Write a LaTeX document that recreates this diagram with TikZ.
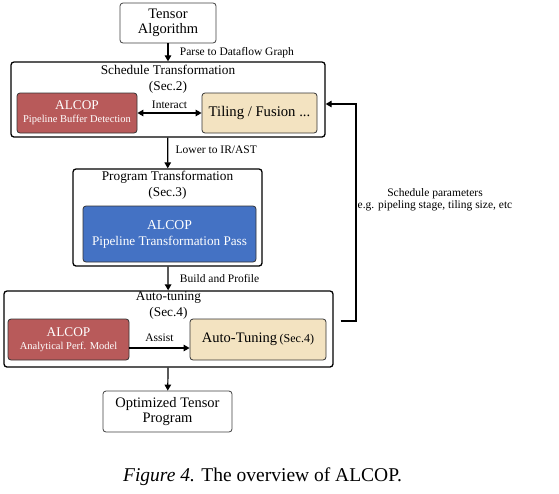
\documentclass[tikz,border=0pt]{standalone}
\usepackage{fontspec}
\setmainfont{Liberation Serif}
\usetikzlibrary{arrows.meta}

\definecolor{alcopred}{HTML}{B85A5A}
\definecolor{tunebeige}{HTML}{F3E3C1}
\definecolor{passblue}{HTML}{4472C4}

\newcommand{\fsz}[1]{\fontsize{#1}{1.22\dimexpr#1pt\relax}\selectfont}

\tikzset{
  stage/.style={draw=black, line width=1.3pt, rounded corners=3pt, inner sep=0pt},
  io/.style={draw=black!75, line width=0.8pt, rounded corners=3pt, fill=white, align=center, font=\fsz{14.5}},
  inner/.style={draw=black!80, line width=0.8pt, rounded corners=3pt, align=center},
  title/.style={align=center, font=\fsz{13.3}},
  lbl/.style={font=\fsz{11.5}},
  arr/.style={line width=1.2pt, -{Triangle[length=6pt,width=6.5pt]}},
  darr/.style={line width=1.2pt, {Triangle[length=6pt,width=6.5pt]}-{Triangle[length=6pt,width=6.5pt]}}
}

\begin{document}
\begin{tikzpicture}[x=1pt, y=-1pt]
        \useasboundingbox (0,0) rectangle (559,493);

        % Entrada y salida
        \node[io, minimum width=96pt, minimum height=40pt] (alg) at (168,23) {Tensor\\[-3pt]Algorithm};
        \node[io, minimum width=129pt, minimum height=41pt] (opt) at (167.5,411.5) {Optimized Tensor\\[-3pt]Program};

        % Etapas
        \node[stage, minimum width=314pt, minimum height=75pt] (sched) at (168,99.5) {};
        \node[title] (schedT) at (168,79.5) {Schedule Transformation\\(Sec.2)};
        \node[stage, minimum width=189pt, minimum height=97pt] (prog) at (167.5,217.5) {};
        \node[title] (progT) at (167.5,185) {Program Transformation\\(Sec.3)};
        \node[stage, minimum width=329pt, minimum height=76pt] (auto) at (168.5,329) {};
        \node[title] (autoT) at (168.5,305.5) {Auto-tuning\\(Sec.4)};

        % Cajas internas
        \node[inner, fill=alcopred, text=white, minimum width=120pt, minimum height=40pt, font=\fsz{10.5}] (pbd) at (77,113)
          {{\fsz{13.3}ALCOP}\\[0.5pt]Pipeline Buffer Detection};
        \node[inner, fill=tunebeige, minimum width=115pt, minimum height=40pt, font=\fsz{14.7}] (tile) at (259.5,113)
          {Tiling / Fusion ...};
        \node[inner, fill=passblue, text=white, minimum width=173pt, minimum height=56pt, font=\fsz{13.2}] (ptp) at (169.5,234)
          {{\fsz{13.7}ALCOP}\\Pipeline Transformation Pass};
        \node[inner, fill=alcopred, text=white, minimum width=121pt, minimum height=41pt, font=\fsz{10.5}] (apm) at (68.5,339.5)
          {{\fsz{13.3}ALCOP}\\[0.5pt]Analytical Perf. Model};
        \node[inner, fill=tunebeige, minimum width=136pt, minimum height=41pt] (tune) at (258,339.5)
          {{\fsz{14.5}Auto-Tuning} {\fsz{12}(Sec.4)}};

        % Flechas principales
        \draw[arr] (alg) -- (sched) node[lbl, midway, anchor=west, xshift=8pt] (parse) {Parse to Dataflow Graph};
        \draw[arr] (sched) -- (prog) node[lbl, midway, anchor=west, xshift=4pt, yshift=3pt] (lower) {Lower to IR/AST};
        \draw[arr] (prog) -- (auto) node[lbl, midway, anchor=west, xshift=8pt] (build) {Build and Profile};
        \draw[arr] (auto) -- (opt);

        % Flechas internas
        \draw[darr] (pbd.east) -- (tile.west) node[lbl, midway, above=0pt] (interact) {Interact};
        \coordinate (asA) at ([yshift=-8.5pt]apm.east);
        \draw[arr] (asA) -- (asA -| tune.west) node[lbl, midway, above=2pt] (assist) {Assist};

        % Realimentacion
        \coordinate (fbA) at ([xshift=7pt, yshift=8pt]auto.east);
        \coordinate (fbB) at (356,321);
        \coordinate (fbC) at ([yshift=-4.5pt]sched.east);
        \draw[arr] (fbA) -- (fbB) |- (fbC);
        \node[lbl, align=center] (params) at (435,199.5) {Schedule parameters\\[-2pt]e.g. pipeling stage, tiling size, etc};

        % Pie de figura
        \node[font=\fsz{19.5}] (caption) at (262.5,477) {\textit{Figure 4.} The overview of ALCOP.};
    \end{tikzpicture}
\end{document}
